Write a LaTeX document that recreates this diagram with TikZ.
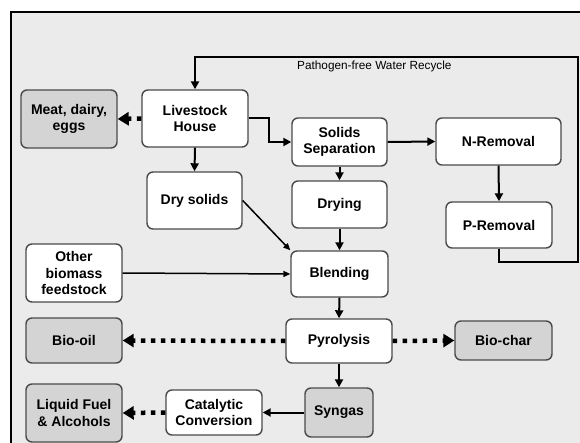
\documentclass[tikz,border=0pt]{standalone}
\usepackage{fontspec}
\setmainfont{Liberation Sans}
\usetikzlibrary{arrows.meta}
\definecolor{bgcol}{HTML}{EBEBEB}
\definecolor{greyfill}{HTML}{D4D4D4}
\definecolor{boxborder}{HTML}{4A4A4A}
\begin{document}
\begin{tikzpicture}[x=1pt,y=-1pt,
  box/.style={draw=boxborder, line width=1.4pt, rounded corners=6pt, fill=white,
    align=center, inner sep=0pt, font=\bfseries\fontsize{14}{16.5}\selectfont},
  gbox/.style={box, fill=greyfill},
  arr/.style={line width=2pt, -{Triangle[length=8pt,width=8pt]}},
  thinarr/.style={line width=1.5pt, -{Triangle[length=7pt,width=6pt]}},
  dotarr/.style={line width=4.5pt, dash pattern=on 4.5pt off 5.5pt, -{Triangle[length=11pt,width=13pt]}},
  lbl/.style={font=\fontsize{11.8}{13}\selectfont, inner sep=0pt}
]
\useasboundingbox (0,0) rectangle (580,443);
\clip (0,0) rectangle (580,443);
\fill[white] (0,0) rectangle (580,443);
\draw[fill=bgcol, line width=2pt] (11,12) rectangle (600,470);

\node[box, minimum width=106pt, minimum height=57pt] (live) at (195,118.5) {Livestock\\House};
\node[gbox, minimum width=96pt, minimum height=58pt] (meat) at (69,119) {Meat, dairy,\\eggs};
\node[box, minimum width=95pt, minimum height=57pt] (dry) at (194.5,200.5) {Dry solids};
\node[box, minimum width=95pt, minimum height=48pt] (sep) at (339.5,142) {Solids\\Separation};
\node[box, minimum width=125pt, minimum height=47pt] (nrem) at (498.5,141.5) {N-Removal};
\node[box, minimum width=95pt, minimum height=47pt] (drying) at (339.5,204.5) {Drying};
\node[box, minimum width=106pt, minimum height=46pt] (prem) at (499,225) {P-Removal};
\node[box, minimum width=97pt, minimum height=46pt] (blend) at (339.5,274) {Blending};
\node[box, minimum width=96pt, minimum height=58pt] (other) at (74,273) {Other\\biomass\\feedstock};
\node[box, minimum width=106pt, minimum height=44pt] (pyro) at (339,341) {Pyrolysis};
\node[gbox, minimum width=96pt, minimum height=45pt] (biooil) at (74,340.5) {Bio-oil};
\node[gbox, minimum width=97pt, minimum height=39pt] (biochar) at (503.5,340.5) {Bio-char};
\node[gbox, minimum width=68pt, minimum height=49pt] (syngas) at (339,412.5) {Syngas};
\node[box, minimum width=96pt, minimum height=45pt] (cat) at (214,412.5) {Catalytic\\Conversion};
\node[gbox, minimum width=96pt, minimum height=58pt] (liquid) at (74,413) {Liquid Fuel\\\& Alcohols};

\coordinate (rc1) at (578,262);
\coordinate (rc2) at (578,57);
\draw[arr] (prem.south) |- (rc1) -- (rc2) -| (live.north);
\node[lbl, anchor=west] (rlabel) at (297,66) {Pathogen-free Water Recycle};

\draw[dotarr] (live.west) -- (meat.east);
\draw[arr] (live.south) -- (dry.north);
\draw[arr] (live.east) -- ++(20,0) |- (sep.west);
\draw[arr] (sep.east) -- (nrem.west);
\draw[arr] (sep.south) -- (drying.north);
\draw[arr] (nrem.south) -- (prem.north);
\draw[thinarr] (dry.east) -- (blend.north west);
\draw[arr] (drying.south) -- (blend.north);
\draw[thinarr] (other.east) -- (blend.west);
\draw[arr] (blend.south) -- (pyro.north);
\draw[dotarr] (pyro.west) -- (biooil.east);
\draw[dotarr] (pyro.east) -- (biochar.west);
\draw[arr] (pyro.south) -- (syngas.north);
\draw[arr] (syngas.west) -- (cat.east);
\draw[dotarr] (cat.west) -- (liquid.east);
\end{tikzpicture}
\end{document}
